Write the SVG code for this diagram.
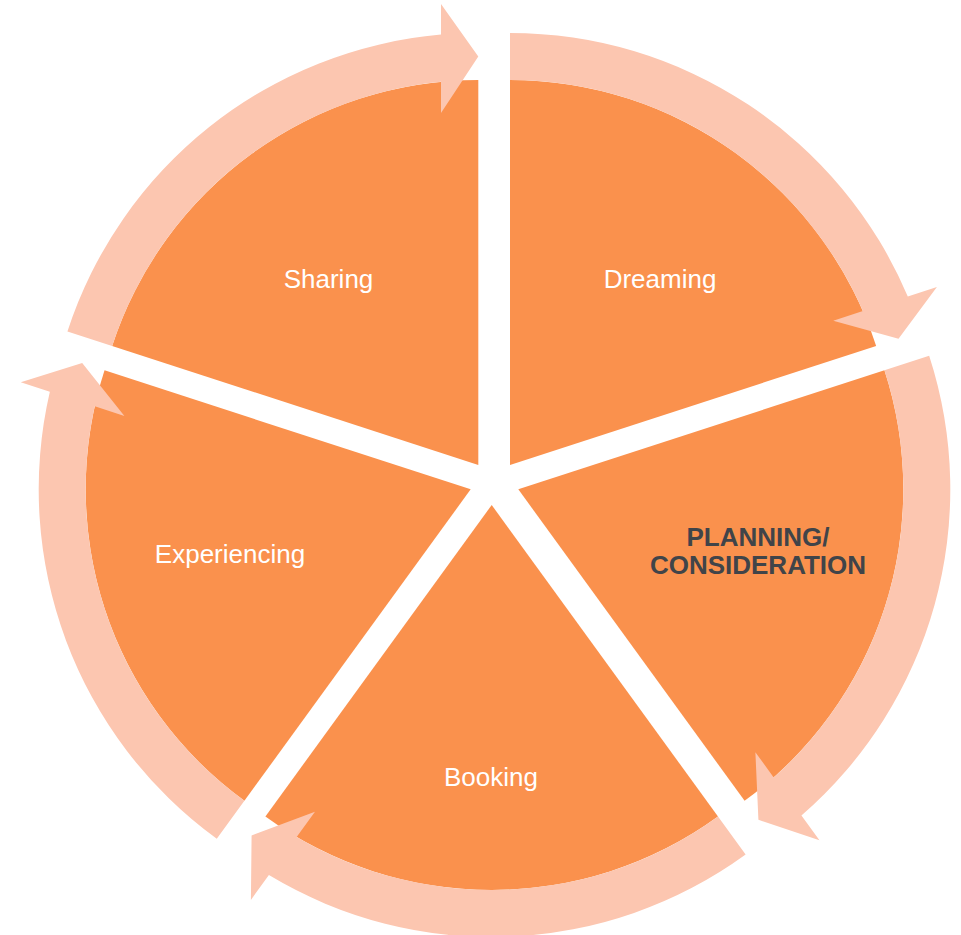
<svg xmlns="http://www.w3.org/2000/svg" width="961" height="935" viewBox="0 0 961 935">
  <style>
    .seg { fill: #FA914D; }
    .arr { fill: #FCC6B0; }
    .lbl { font-family: "Liberation Sans", Arial, sans-serif; font-size: 26px; fill: #FFFFFF; text-anchor: middle; }
    .lblb { font-family: "Liberation Sans", Arial, sans-serif; font-size: 26px; font-weight: bold; fill: #404449; text-anchor: middle; }
  </style>
  <defs>
    <path id="wedge" d="M0 0 L0 -385 A385 385 0 0 1 366.16 -118.97 Z"/>
    <path id="carrow" d="M-366.16 -118.97 L-410.86 -133.5 A432 432 0 0 1 -37.3 -430.39 L-37.3 -461 L0 -408.5 L-37.3 -352 L-37.3 -383.19 A385 385 0 0 0 -366.16 -118.97 Z"/>
  </defs>
  <rect width="961" height="935" fill="#FFFFFF"/>
  <g id="node-dreaming">
    <use href="#wedge" class="seg" transform="translate(510 465)"/>
    <text class="lbl" x="660" y="288">Dreaming</text>
  </g>
  <g id="node-planning">
    <use href="#wedge" class="seg" transform="translate(518.3 489.3) rotate(72)"/>
    <text class="lblb" x="758" y="546">PLANNING/</text>
    <text class="lblb" x="758" y="573.5">CONSIDERATION</text>
  </g>
  <g id="node-booking">
    <use href="#wedge" class="seg" transform="translate(491.7 505) rotate(144)"/>
    <text class="lbl" x="491" y="786">Booking</text>
  </g>
  <g id="node-experiencing">
    <use href="#wedge" class="seg" transform="translate(470.7 489.3) rotate(216)"/>
    <text class="lbl" x="230" y="563">Experiencing</text>
  </g>
  <g id="node-sharing">
    <use href="#wedge" class="seg" transform="translate(478.3 465) rotate(288)"/>
    <text class="lbl" x="328.5" y="288">Sharing</text>
  </g>
  <g id="connectors">
    <use href="#carrow" class="arr" transform="translate(478.3 465)"/>
    <use href="#carrow" class="arr" transform="translate(510 465) rotate(72)"/>
    <use href="#carrow" class="arr" transform="translate(518.3 489.3) rotate(144)"/>
    <use href="#carrow" class="arr" transform="translate(491.7 505) rotate(216)"/>
    <use href="#carrow" class="arr" transform="translate(470.7 489.3) rotate(288)"/>
  </g>
</svg>
